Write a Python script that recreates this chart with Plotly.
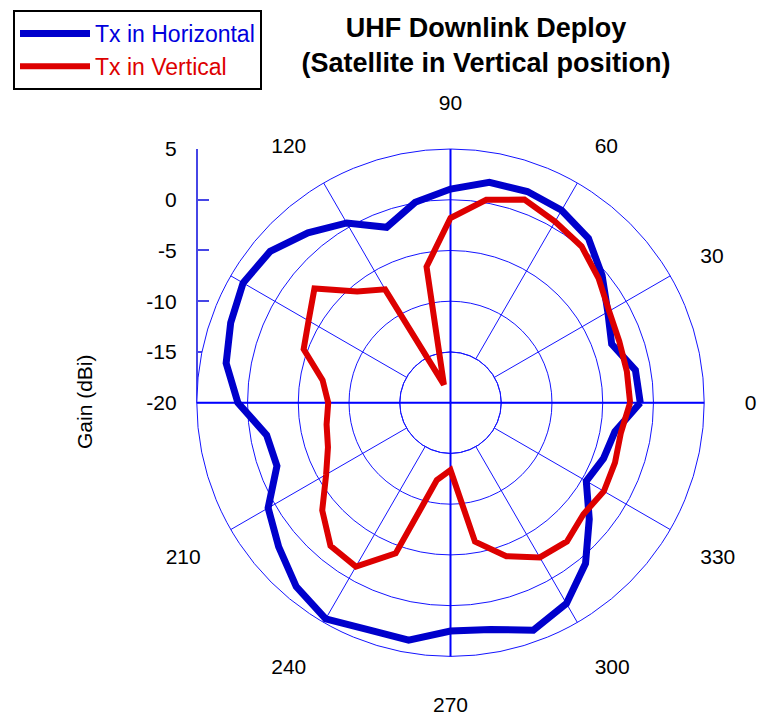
import plotly.graph_objects as go

# ---- data ----
angles = [0, 10, 20, 30, 40, 50, 60, 70, 80, 90, 100, 110, 120, 130, 140, 150, 160, 170,
          180, 190, 200, 210, 220, 230, 240, 250, 260, 270, 280, 290, 300, 310, 320, 330, 340, 350, 360]

gain_horizontal = [-1.3, -1.5, -3.1, -2.1, -0.5, 1.15, 1.9, 2.15, 2.05, 1.05, 0.05, -1.6, 0.45,
                   1.85, 3.2, 3.6, 3.05, 2.45, 0.95, -1.6, -1.8, 0.75, 2.1, 3.65, 4.6, 3.8, 3.75,
                   2.5, 2.7, 3.85, 2.85, 0.7, -2.15, -4.55, -3.95, -3.55, -1.3]

gain_vertical = [-2.3, -2.35, -2.3, -1.95, -0.95, 0.1, 0.6, 1.3, 0.3, -1.8, -6.4, -18.1, -7.1,
                 -5.7, -2.5, -3.85, -4.6, -7.2, -7.95, -7.6, -7.15, -5.85, -3.5, -1.6, -1.35,
                 -4.2, -12.25, -13.35, -6.1, -3.9, -2.4, -2.15, -2.9, -2.55, -2.75, -2.95, -2.3]

angle_ticks = [0, 30, 60, 90, 120, 150, 180, 210, 240, 270, 300, 330]
angle_ticktext = ["\u00a00", "30", "60", "90", "120", "", "", "210", "240", "270", "300", "330"]
gain_ticks = [-20, -15, -10, -5, 0, 5]
gain_ticktext = ["-20", "-15", "-10", "-5", "0", "5"]
gain_range = [-20, 5]
cross_angles = [0, 90, 180, 270]

# ---- layout geometry (figure pixels; the page adds an 8px body margin) ----
W, H = 765, 724
cx, cy, R = 442.5, 394.7, 253.7
FONT = "Liberation Sans, Arial, sans-serif"
GRID = "#1414ff"
dom = dict(x=[(cx - R) / W, (cx + R) / W], y=[1 - (cy + R) / H, 1 - (cy - R) / H])
hole = 0.2  # spokes start at the -15 dBi ring

fig = go.Figure()

# base polar: rings, spokes, angle labels
fig.add_trace(go.Scatterpolar(r=[], theta=[], subplot="polar", showlegend=False, hoverinfo="skip"))
# overlays: thick cross lines through the centre and the innermost ring
for k, a in enumerate(cross_angles):
    fig.add_trace(go.Scatterpolar(r=[], theta=[], subplot=f"polar{k + 2}",
                                  showlegend=False, hoverinfo="skip"))
# data polar (top-most)
data_sp = f"polar{len(cross_angles) + 2}"
fig.add_trace(go.Scatterpolar(
    r=gain_horizontal, theta=angles, mode="lines", subplot=data_sp,
    line=dict(color="#0000CC", width=7),
    name='<span style="color:#0000DD">Tx in Horizontal</span>',
))
fig.add_trace(go.Scatterpolar(
    r=gain_vertical, theta=angles, mode="lines", subplot=data_sp,
    line=dict(color="#DD0000", width=6),
    name='<span style="color:#DD0000">Tx in Vertical</span>',
))
# empty cartesian trace so that the gain axis on the left is rendered
fig.add_trace(go.Scatter(x=[], y=[], showlegend=False, hoverinfo="skip"))

layout = dict(
    width=W, height=H,
    margin=dict(l=0, r=0, t=0, b=0, autoexpand=False),
    paper_bgcolor="white", plot_bgcolor="rgba(0,0,0,0)",
    font=dict(family=FONT, size=21, color="black"),
    title=dict(
        text="<b>UHF Downlink Deploy<br>(Satellite in Vertical position)</b>",
        x=478 / W, xanchor="center", xref="paper",
        y=1 - 29 / H, yanchor="top", yref="container",
        font=dict(size=27, color="black", family=FONT),
    ),
    polar=dict(
        domain=dom, bgcolor="white", hole=hole,
        radialaxis=dict(
            range=[-15, gain_range[1]], tickvals=[-10, -5, 0], showticklabels=False,
            showline=False, ticks="", gridcolor=GRID, gridwidth=1,
        ),
        angularaxis=dict(
            tickvals=angle_ticks, ticktext=angle_ticktext,
            direction="counterclockwise", rotation=0,
            showline=True, linecolor=GRID, linewidth=1,
            gridcolor=GRID, gridwidth=1,
            ticks="outside", ticklen=30, tickcolor="rgba(0,0,0,0)",
            tickfont=dict(size=21, color="black", family=FONT),
        ),
    ),
    xaxis=dict(visible=False, domain=[0, 1], automargin=False),
    yaxis=dict(
        domain=[1 - cy / H, 1 - (cy - R) / H],
        range=gain_range, tickvals=gain_ticks, ticktext=gain_ticktext,
        anchor="free", position=(cx - R) / W, automargin=False,
        showline=True, linecolor="#4646e6", linewidth=2,
        ticks="inside", ticklen=11, tickwidth=2, tickcolor="#4646e6",
        showgrid=False, zeroline=False,
        ticklabelstandoff=15,
        tickfont=dict(size=21, color="black", family=FONT),
    ),
    legend=dict(
        x=5 / W, y=1 - 2 / H, xanchor="left", yanchor="top",
        bordercolor="black", borderwidth=2, bgcolor="white",
        font=dict(size=23, family=FONT),
        itemwidth=70, tracegroupgap=0,
    ),
    annotations=[dict(
        text="Gain (dBi)", textangle=-90, showarrow=False,
        x=76 / W, y=1 - 394 / H, xref="paper", yref="paper",
        xanchor="center", yanchor="middle",
        font=dict(size=21, color="black", family=FONT),
    )],
)

for k, a in enumerate(cross_angles):
    layout[f"polar{k + 2}"] = dict(
        domain=dom, bgcolor="rgba(0,0,0,0)",
        angularaxis=dict(visible=False, direction="counterclockwise", rotation=0),
        radialaxis=dict(
            range=gain_range, angle=a, showline=True, linecolor="#0000ff", linewidth=2,
            tickvals=[-15] if k == 0 else [], showgrid=(k == 0), gridcolor=GRID, gridwidth=1,
            showticklabels=False, ticks="",
        ),
    )

layout[data_sp] = dict(
    domain=dom, bgcolor="rgba(0,0,0,0)",
    angularaxis=dict(visible=False, direction="counterclockwise", rotation=0),
    radialaxis=dict(range=gain_range, visible=False),
)

fig.update_layout(**layout)
fig.write_html("out.html")
